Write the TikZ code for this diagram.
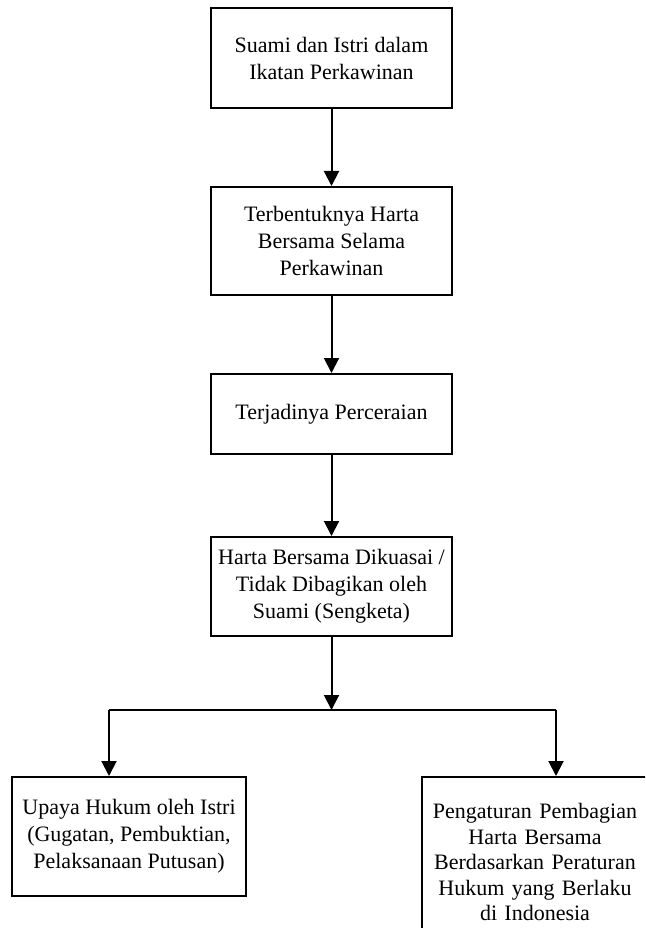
\documentclass[tikz,border=0pt]{standalone}
\usepackage{fontspec}
\setmainfont{Liberation Serif}
\usetikzlibrary{arrows.meta,positioning}

\begin{document}
\begin{tikzpicture}[x=1pt,y=1pt,line width=2pt,
    >={Triangle[length=15pt,width=15pt]},
    flowbox/.style={draw,rectangle,line width=2pt,align=center,inner sep=0pt,
        font=\fontsize{22}{27}\selectfont}]
\clip (0,0) rectangle (645,-928);
\fill[white] (0,0) rectangle (645,-928);

\begin{scope}[every node/.style={flowbox}]
    \node[minimum width=241pt,minimum height=100pt] (nikah) at (331.5,-58) {Suami dan Istri dalam\\Ikatan Perkawinan};
    \node[minimum width=241pt,minimum height=108pt] (harta) at (331.5,-241) {Terbentuknya Harta\\Bersama Selama\\Perkawinan};
    \node[minimum width=241pt,minimum height=80pt] (cerai) at (331.5,-414) {Terjadinya Perceraian};
    \node[minimum width=241pt,minimum height=99pt] (sengketa) at (331.5,-586.5) {Harta Bersama Dikuasai /\\Tidak Dibagikan oleh\\Suami (Sengketa)};
    \node[minimum width=234pt,minimum height=119pt] (upaya) at (129,-836.5) {Upaya Hukum oleh Istri\\(Gugatan, Pembuktian,\\Pelaksanaan Putusan)};
    \node[minimum width=226pt,minimum height=170pt,font=\fontsize{22}{25.5}\selectfont,
          text width=212pt] (atur) at (535,-862) {Pengaturan Pembagian\\Harta Bersama\\Berdasarkan Peraturan\\Hukum yang Berlaku\\di Indonesia};
\end{scope}

\coordinate (split) at (331.5,-710);
\coordinate (kiri) at (109,-710);
\coordinate (kanan) at (556,-710);

\draw[->] (nikah) -- (harta);
\draw[->] (harta) -- (cerai);
\draw[->] (cerai) -- (sengketa);
\draw[->] (sengketa) -- (split);
\draw (kiri) -- (kanan);
\draw[->] (kiri) -- (kiri |- upaya.north);
\draw[->] (kanan) -- (kanan |- atur.north);
\end{tikzpicture}
\end{document}
